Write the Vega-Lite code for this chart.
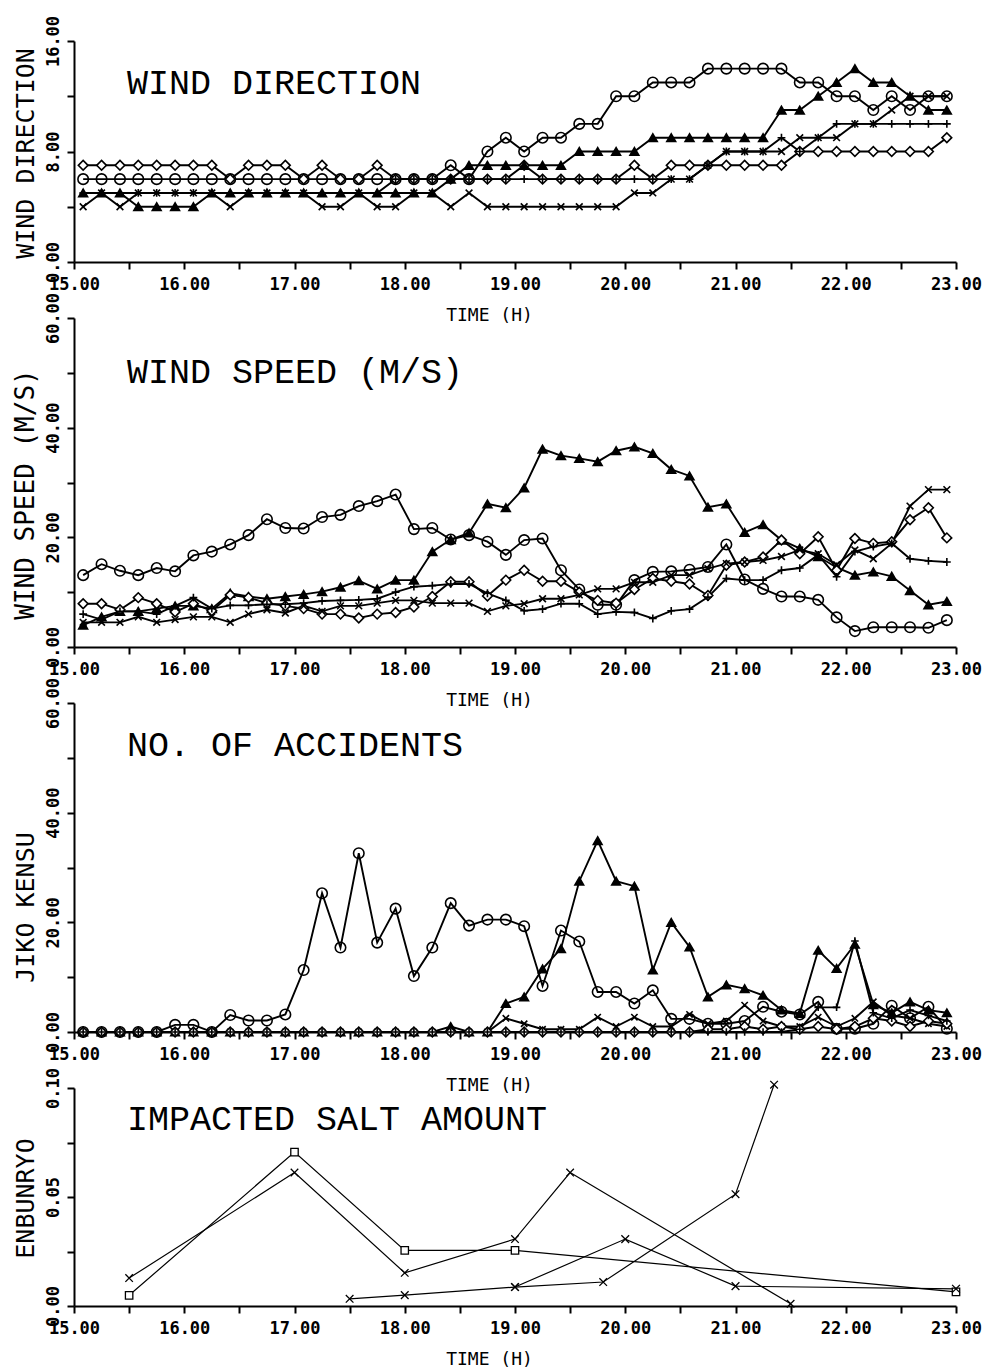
{
"$schema": "https://vega.github.io/schema/vega-lite/v6.json",
"background": "white",
"padding": {"left": 11, "top": 15, "right": 5, "bottom": 2},
"spacing": 56,
"bounds": "flush",
"resolve": {"scale": {"shape": "independent", "fill": "independent", "size": "independent"}},
"config": {
 "view": {"stroke": null},
 "axis": {"domainColor": "black", "domainWidth": 2, "tickColor": "black", "tickWidth": 2, "tickSize": 7, "labelFont": "DejaVu Sans Mono", "labelFontSize": 17, "labelFontWeight": "bold", "labelColor": "black", "titleFont": "DejaVu Sans Mono", "titleFontWeight": "normal", "titleColor": "black", "grid": false, "labelOverlap": false, "labelFlush": false},
 "axisX": {"labelPadding": 7, "titleFontSize": 18, "titleX": 415, "titleY": 58, "titleBaseline": "alphabetic", "titleAlign": "center"},
 "axisY": {"labelAngle": 270, "labelAlign": "center", "labelBaseline": "bottom", "labelPadding": 5, "titleAngle": 270, "titleFontSize": 25, "titleX": -36, "titleAlign": "center", "titleBaseline": "bottom"}
},
"datasets": {
"wd": [
{"t":15.083,"s":"D","v":7},{"t":15.25,"s":"D","v":7},{"t":15.417,"s":"D","v":7},{"t":15.583,"s":"D","v":7},{"t":15.75,"s":"D","v":7},{"t":15.917,"s":"D","v":7},{"t":16.083,"s":"D","v":7},{"t":16.25,"s":"D","v":7},{"t":16.417,"s":"D","v":6},{"t":16.583,"s":"D","v":7},{"t":16.75,"s":"D","v":7},{"t":16.917,"s":"D","v":7},{"t":17.083,"s":"D","v":6},{"t":17.25,"s":"D","v":7},{"t":17.417,"s":"D","v":6},{"t":17.583,"s":"D","v":6},{"t":17.75,"s":"D","v":7},{"t":17.917,"s":"D","v":6},{"t":18.083,"s":"D","v":6},{"t":18.25,"s":"D","v":6},{"t":18.417,"s":"D","v":6},{"t":18.583,"s":"D","v":6},{"t":18.75,"s":"D","v":6},{"t":18.917,"s":"D","v":6},{"t":19.083,"s":"D","v":7},{"t":19.25,"s":"D","v":6},{"t":19.417,"s":"D","v":6},{"t":19.583,"s":"D","v":6},{"t":19.75,"s":"D","v":6},{"t":19.917,"s":"D","v":6},{"t":20.083,"s":"D","v":7},{"t":20.25,"s":"D","v":6},{"t":20.417,"s":"D","v":7},{"t":20.583,"s":"D","v":7},{"t":20.75,"s":"D","v":7},{"t":20.917,"s":"D","v":7},{"t":21.083,"s":"D","v":7},{"t":21.25,"s":"D","v":7},{"t":21.417,"s":"D","v":7},{"t":21.583,"s":"D","v":8},{"t":21.75,"s":"D","v":8},{"t":21.917,"s":"D","v":8},{"t":22.083,"s":"D","v":8},{"t":22.25,"s":"D","v":8},{"t":22.417,"s":"D","v":8},{"t":22.583,"s":"D","v":8},{"t":22.75,"s":"D","v":8},{"t":22.917,"s":"D","v":9},
{"t":15.083,"s":"C","v":6},{"t":15.25,"s":"C","v":6},{"t":15.417,"s":"C","v":6},{"t":15.583,"s":"C","v":6},{"t":15.75,"s":"C","v":6},{"t":15.917,"s":"C","v":6},{"t":16.083,"s":"C","v":6},{"t":16.25,"s":"C","v":6},{"t":16.417,"s":"C","v":6},{"t":16.583,"s":"C","v":6},{"t":16.75,"s":"C","v":6},{"t":16.917,"s":"C","v":6},{"t":17.083,"s":"C","v":6},{"t":17.25,"s":"C","v":6},{"t":17.417,"s":"C","v":6},{"t":17.583,"s":"C","v":6},{"t":17.75,"s":"C","v":6},{"t":17.917,"s":"C","v":6},{"t":18.083,"s":"C","v":6},{"t":18.25,"s":"C","v":6},{"t":18.417,"s":"C","v":7},{"t":18.583,"s":"C","v":6},{"t":18.75,"s":"C","v":8},{"t":18.917,"s":"C","v":9},{"t":19.083,"s":"C","v":8},{"t":19.25,"s":"C","v":9},{"t":19.417,"s":"C","v":9},{"t":19.583,"s":"C","v":10},{"t":19.75,"s":"C","v":10},{"t":19.917,"s":"C","v":12},{"t":20.083,"s":"C","v":12},{"t":20.25,"s":"C","v":13},{"t":20.417,"s":"C","v":13},{"t":20.583,"s":"C","v":13},{"t":20.75,"s":"C","v":14},{"t":20.917,"s":"C","v":14},{"t":21.083,"s":"C","v":14},{"t":21.25,"s":"C","v":14},{"t":21.417,"s":"C","v":14},{"t":21.583,"s":"C","v":13},{"t":21.75,"s":"C","v":13},{"t":21.917,"s":"C","v":12},{"t":22.083,"s":"C","v":12},{"t":22.25,"s":"C","v":11},{"t":22.417,"s":"C","v":12},{"t":22.583,"s":"C","v":11},{"t":22.75,"s":"C","v":12},{"t":22.917,"s":"C","v":12},
{"t":15.083,"s":"T","v":5},{"t":15.25,"s":"T","v":5},{"t":15.417,"s":"T","v":5},{"t":15.583,"s":"T","v":4},{"t":15.75,"s":"T","v":4},{"t":15.917,"s":"T","v":4},{"t":16.083,"s":"T","v":4},{"t":16.25,"s":"T","v":5},{"t":16.417,"s":"T","v":5},{"t":16.583,"s":"T","v":5},{"t":16.75,"s":"T","v":5},{"t":16.917,"s":"T","v":5},{"t":17.083,"s":"T","v":5},{"t":17.25,"s":"T","v":5},{"t":17.417,"s":"T","v":5},{"t":17.583,"s":"T","v":5},{"t":17.75,"s":"T","v":5},{"t":17.917,"s":"T","v":5},{"t":18.083,"s":"T","v":5},{"t":18.25,"s":"T","v":5},{"t":18.417,"s":"T","v":6},{"t":18.583,"s":"T","v":7},{"t":18.75,"s":"T","v":7},{"t":18.917,"s":"T","v":7},{"t":19.083,"s":"T","v":7},{"t":19.25,"s":"T","v":7},{"t":19.417,"s":"T","v":7},{"t":19.583,"s":"T","v":8},{"t":19.75,"s":"T","v":8},{"t":19.917,"s":"T","v":8},{"t":20.083,"s":"T","v":8},{"t":20.25,"s":"T","v":9},{"t":20.417,"s":"T","v":9},{"t":20.583,"s":"T","v":9},{"t":20.75,"s":"T","v":9},{"t":20.917,"s":"T","v":9},{"t":21.083,"s":"T","v":9},{"t":21.25,"s":"T","v":9},{"t":21.417,"s":"T","v":11},{"t":21.583,"s":"T","v":11},{"t":21.75,"s":"T","v":12},{"t":21.917,"s":"T","v":13},{"t":22.083,"s":"T","v":14},{"t":22.25,"s":"T","v":13},{"t":22.417,"s":"T","v":13},{"t":22.583,"s":"T","v":12},{"t":22.75,"s":"T","v":11},{"t":22.917,"s":"T","v":11},
{"t":15.083,"s":"P","v":5},{"t":15.25,"s":"P","v":5},{"t":15.417,"s":"P","v":5},{"t":15.583,"s":"P","v":5},{"t":15.75,"s":"P","v":5},{"t":15.917,"s":"P","v":5},{"t":16.083,"s":"P","v":5},{"t":16.25,"s":"P","v":5},{"t":16.417,"s":"P","v":5},{"t":16.583,"s":"P","v":5},{"t":16.75,"s":"P","v":5},{"t":16.917,"s":"P","v":5},{"t":17.083,"s":"P","v":5},{"t":17.25,"s":"P","v":5},{"t":17.417,"s":"P","v":5},{"t":17.583,"s":"P","v":5},{"t":17.75,"s":"P","v":5},{"t":17.917,"s":"P","v":6},{"t":18.083,"s":"P","v":6},{"t":18.25,"s":"P","v":6},{"t":18.417,"s":"P","v":6},{"t":18.583,"s":"P","v":6},{"t":18.75,"s":"P","v":6},{"t":18.917,"s":"P","v":6},{"t":19.083,"s":"P","v":6},{"t":19.25,"s":"P","v":6},{"t":19.417,"s":"P","v":6},{"t":19.583,"s":"P","v":6},{"t":19.75,"s":"P","v":6},{"t":19.917,"s":"P","v":6},{"t":20.083,"s":"P","v":6},{"t":20.25,"s":"P","v":6},{"t":20.417,"s":"P","v":6},{"t":20.583,"s":"P","v":6},{"t":20.75,"s":"P","v":7},{"t":20.917,"s":"P","v":8},{"t":21.083,"s":"P","v":8},{"t":21.25,"s":"P","v":8},{"t":21.417,"s":"P","v":9},{"t":21.583,"s":"P","v":8},{"t":21.75,"s":"P","v":9},{"t":21.917,"s":"P","v":10},{"t":22.083,"s":"P","v":10},{"t":22.25,"s":"P","v":10},{"t":22.417,"s":"P","v":10},{"t":22.583,"s":"P","v":10},{"t":22.75,"s":"P","v":10},{"t":22.917,"s":"P","v":10},
{"t":15.083,"s":"X","v":4},{"t":15.25,"s":"X","v":5},{"t":15.417,"s":"X","v":4},{"t":15.583,"s":"X","v":5},{"t":15.75,"s":"X","v":5},{"t":15.917,"s":"X","v":5},{"t":16.083,"s":"X","v":5},{"t":16.25,"s":"X","v":5},{"t":16.417,"s":"X","v":4},{"t":16.583,"s":"X","v":5},{"t":16.75,"s":"X","v":5},{"t":16.917,"s":"X","v":5},{"t":17.083,"s":"X","v":5},{"t":17.25,"s":"X","v":4},{"t":17.417,"s":"X","v":4},{"t":17.583,"s":"X","v":5},{"t":17.75,"s":"X","v":4},{"t":17.917,"s":"X","v":4},{"t":18.083,"s":"X","v":5},{"t":18.25,"s":"X","v":5},{"t":18.417,"s":"X","v":4},{"t":18.583,"s":"X","v":5},{"t":18.75,"s":"X","v":4},{"t":18.917,"s":"X","v":4},{"t":19.083,"s":"X","v":4},{"t":19.25,"s":"X","v":4},{"t":19.417,"s":"X","v":4},{"t":19.583,"s":"X","v":4},{"t":19.75,"s":"X","v":4},{"t":19.917,"s":"X","v":4},{"t":20.083,"s":"X","v":5},{"t":20.25,"s":"X","v":5},{"t":20.417,"s":"X","v":6},{"t":20.583,"s":"X","v":6},{"t":20.75,"s":"X","v":7},{"t":20.917,"s":"X","v":8},{"t":21.083,"s":"X","v":8},{"t":21.25,"s":"X","v":8},{"t":21.417,"s":"X","v":8},{"t":21.583,"s":"X","v":9},{"t":21.75,"s":"X","v":9},{"t":21.917,"s":"X","v":9},{"t":22.083,"s":"X","v":10},{"t":22.25,"s":"X","v":10},{"t":22.417,"s":"X","v":11},{"t":22.583,"s":"X","v":12},{"t":22.75,"s":"X","v":12},{"t":22.917,"s":"X","v":12}
],
"ws": [
{"t":15.083,"s":"C","v":13.1},{"t":15.25,"s":"C","v":15.1},{"t":15.417,"s":"C","v":13.9},{"t":15.583,"s":"C","v":13.1},{"t":15.75,"s":"C","v":14.4},{"t":15.917,"s":"C","v":13.8},{"t":16.083,"s":"C","v":16.7},{"t":16.25,"s":"C","v":17.4},{"t":16.417,"s":"C","v":18.7},{"t":16.583,"s":"C","v":20.4},{"t":16.75,"s":"C","v":23.3},{"t":16.917,"s":"C","v":21.7},{"t":17.083,"s":"C","v":21.6},{"t":17.25,"s":"C","v":23.7},{"t":17.417,"s":"C","v":24.1},{"t":17.583,"s":"C","v":25.7},{"t":17.75,"s":"C","v":26.6},{"t":17.917,"s":"C","v":27.8},{"t":18.083,"s":"C","v":21.5},{"t":18.25,"s":"C","v":21.7},{"t":18.417,"s":"C","v":19.6},{"t":18.583,"s":"C","v":20.4},{"t":18.75,"s":"C","v":19.2},{"t":18.917,"s":"C","v":16.8},{"t":19.083,"s":"C","v":19.5},{"t":19.25,"s":"C","v":19.8},{"t":19.417,"s":"C","v":14.0},{"t":19.583,"s":"C","v":10.5},{"t":19.75,"s":"C","v":7.7},{"t":19.917,"s":"C","v":7.7},{"t":20.083,"s":"C","v":12.2},{"t":20.25,"s":"C","v":13.7},{"t":20.417,"s":"C","v":13.8},{"t":20.583,"s":"C","v":14.1},{"t":20.75,"s":"C","v":14.6},{"t":20.917,"s":"C","v":18.7},{"t":21.083,"s":"C","v":12.3},{"t":21.25,"s":"C","v":10.6},{"t":21.417,"s":"C","v":9.2},{"t":21.583,"s":"C","v":9.2},{"t":21.75,"s":"C","v":8.6},{"t":21.917,"s":"C","v":5.4},{"t":22.083,"s":"C","v":2.9},{"t":22.25,"s":"C","v":3.6},{"t":22.417,"s":"C","v":3.6},{"t":22.583,"s":"C","v":3.6},{"t":22.75,"s":"C","v":3.5},{"t":22.917,"s":"C","v":4.9},
{"t":15.083,"s":"T","v":4},{"t":15.25,"s":"T","v":5.5},{"t":15.417,"s":"T","v":6.5},{"t":15.583,"s":"T","v":6.5},{"t":15.75,"s":"T","v":7},{"t":15.917,"s":"T","v":7.5},{"t":16.083,"s":"T","v":7.5},{"t":16.25,"s":"T","v":7},{"t":16.417,"s":"T","v":9.8},{"t":16.583,"s":"T","v":9.2},{"t":16.75,"s":"T","v":8.8},{"t":16.917,"s":"T","v":9.2},{"t":17.083,"s":"T","v":9.6},{"t":17.25,"s":"T","v":10.1},{"t":17.417,"s":"T","v":10.9},{"t":17.583,"s":"T","v":12.1},{"t":17.75,"s":"T","v":10.6},{"t":17.917,"s":"T","v":12.2},{"t":18.083,"s":"T","v":12.2},{"t":18.25,"s":"T","v":17.4},{"t":18.417,"s":"T","v":19.6},{"t":18.583,"s":"T","v":20.8},{"t":18.75,"s":"T","v":26.1},{"t":18.917,"s":"T","v":25.4},{"t":19.083,"s":"T","v":29.0},{"t":19.25,"s":"T","v":36.1},{"t":19.417,"s":"T","v":34.9},{"t":19.583,"s":"T","v":34.4},{"t":19.75,"s":"T","v":33.8},{"t":19.917,"s":"T","v":35.8},{"t":20.083,"s":"T","v":36.5},{"t":20.25,"s":"T","v":35.3},{"t":20.417,"s":"T","v":32.4},{"t":20.583,"s":"T","v":31.2},{"t":20.75,"s":"T","v":25.5},{"t":20.917,"s":"T","v":26.1},{"t":21.083,"s":"T","v":20.9},{"t":21.25,"s":"T","v":22.3},{"t":21.417,"s":"T","v":19.5},{"t":21.583,"s":"T","v":18.0},{"t":21.75,"s":"T","v":16.5},{"t":21.917,"s":"T","v":14.5},{"t":22.083,"s":"T","v":13.1},{"t":22.25,"s":"T","v":13.7},{"t":22.417,"s":"T","v":12.9},{"t":22.583,"s":"T","v":10.3},{"t":22.75,"s":"T","v":7.7},{"t":22.917,"s":"T","v":8.3},
{"t":15.083,"s":"D","v":7.9},{"t":15.25,"s":"D","v":7.9},{"t":15.417,"s":"D","v":6.8},{"t":15.583,"s":"D","v":9.0},{"t":15.75,"s":"D","v":7.9},{"t":15.917,"s":"D","v":6.4},{"t":16.083,"s":"D","v":7.9},{"t":16.25,"s":"D","v":6.6},{"t":16.417,"s":"D","v":9.5},{"t":16.583,"s":"D","v":9.0},{"t":16.75,"s":"D","v":8.0},{"t":16.917,"s":"D","v":7.5},{"t":17.083,"s":"D","v":7.0},{"t":17.25,"s":"D","v":6.0},{"t":17.417,"s":"D","v":6.0},{"t":17.583,"s":"D","v":5.3},{"t":17.75,"s":"D","v":6.0},{"t":17.917,"s":"D","v":6.3},{"t":18.083,"s":"D","v":7.3},{"t":18.25,"s":"D","v":9.2},{"t":18.417,"s":"D","v":11.9},{"t":18.583,"s":"D","v":11.9},{"t":18.75,"s":"D","v":9.3},{"t":18.917,"s":"D","v":12.2},{"t":19.083,"s":"D","v":14.0},{"t":19.25,"s":"D","v":12.0},{"t":19.417,"s":"D","v":12.0},{"t":19.583,"s":"D","v":10.0},{"t":19.75,"s":"D","v":8.5},{"t":19.917,"s":"D","v":8.0},{"t":20.083,"s":"D","v":10.5},{"t":20.25,"s":"D","v":12.5},{"t":20.417,"s":"D","v":12.0},{"t":20.583,"s":"D","v":11.5},{"t":20.75,"s":"D","v":9.4},{"t":20.917,"s":"D","v":14.9},{"t":21.083,"s":"D","v":15.5},{"t":21.25,"s":"D","v":16.4},{"t":21.417,"s":"D","v":19.5},{"t":21.583,"s":"D","v":17.0},{"t":21.75,"s":"D","v":20.1},{"t":21.917,"s":"D","v":14.0},{"t":22.083,"s":"D","v":19.8},{"t":22.25,"s":"D","v":18.9},{"t":22.417,"s":"D","v":19.2},{"t":22.583,"s":"D","v":23.2},{"t":22.75,"s":"D","v":25.4},{"t":22.917,"s":"D","v":19.9},
{"t":15.083,"s":"P","v":6},{"t":15.25,"s":"P","v":5},{"t":15.417,"s":"P","v":6.5},{"t":15.583,"s":"P","v":6.5},{"t":15.75,"s":"P","v":6},{"t":15.917,"s":"P","v":7.5},{"t":16.083,"s":"P","v":9},{"t":16.25,"s":"P","v":7},{"t":16.417,"s":"P","v":7.6},{"t":16.583,"s":"P","v":7.6},{"t":16.75,"s":"P","v":7.8},{"t":16.917,"s":"P","v":7.8},{"t":17.083,"s":"P","v":8.0},{"t":17.25,"s":"P","v":8.4},{"t":17.417,"s":"P","v":8.5},{"t":17.583,"s":"P","v":8.6},{"t":17.75,"s":"P","v":8.8},{"t":17.917,"s":"P","v":10.0},{"t":18.083,"s":"P","v":11.0},{"t":18.25,"s":"P","v":11.2},{"t":18.417,"s":"P","v":11.5},{"t":18.583,"s":"P","v":11.5},{"t":18.75,"s":"P","v":9.8},{"t":18.917,"s":"P","v":8.5},{"t":19.083,"s":"P","v":6.6},{"t":19.25,"s":"P","v":6.9},{"t":19.417,"s":"P","v":7.9},{"t":19.583,"s":"P","v":7.9},{"t":19.75,"s":"P","v":6.0},{"t":19.917,"s":"P","v":6.4},{"t":20.083,"s":"P","v":6.3},{"t":20.25,"s":"P","v":5.2},{"t":20.417,"s":"P","v":6.6},{"t":20.583,"s":"P","v":6.9},{"t":20.75,"s":"P","v":9.1},{"t":20.917,"s":"P","v":12.5},{"t":21.083,"s":"P","v":12.2},{"t":21.25,"s":"P","v":12.2},{"t":21.417,"s":"P","v":14.0},{"t":21.583,"s":"P","v":14.4},{"t":21.75,"s":"P","v":16.8},{"t":21.917,"s":"P","v":12.8},{"t":22.083,"s":"P","v":17.4},{"t":22.25,"s":"P","v":18.3},{"t":22.417,"s":"P","v":18.9},{"t":22.583,"s":"P","v":16.1},{"t":22.75,"s":"P","v":15.7},{"t":22.917,"s":"P","v":15.5},
{"t":15.083,"s":"X","v":4.5},{"t":15.25,"s":"X","v":4.5},{"t":15.417,"s":"X","v":4.5},{"t":15.583,"s":"X","v":5.5},{"t":15.75,"s":"X","v":4.5},{"t":15.917,"s":"X","v":5},{"t":16.083,"s":"X","v":5.5},{"t":16.25,"s":"X","v":5.5},{"t":16.417,"s":"X","v":4.5},{"t":16.583,"s":"X","v":6},{"t":16.75,"s":"X","v":6.8},{"t":16.917,"s":"X","v":6.2},{"t":17.083,"s":"X","v":7.5},{"t":17.25,"s":"X","v":6.5},{"t":17.417,"s":"X","v":7.5},{"t":17.583,"s":"X","v":7.5},{"t":17.75,"s":"X","v":8.0},{"t":17.917,"s":"X","v":8.5},{"t":18.083,"s":"X","v":8.5},{"t":18.25,"s":"X","v":8.0},{"t":18.417,"s":"X","v":8.0},{"t":18.583,"s":"X","v":8.0},{"t":18.75,"s":"X","v":6.5},{"t":18.917,"s":"X","v":7.5},{"t":19.083,"s":"X","v":7.9},{"t":19.25,"s":"X","v":8.8},{"t":19.417,"s":"X","v":8.8},{"t":19.583,"s":"X","v":9.5},{"t":19.75,"s":"X","v":10.6},{"t":19.917,"s":"X","v":10.6},{"t":20.083,"s":"X","v":11.8},{"t":20.25,"s":"X","v":11.8},{"t":20.417,"s":"X","v":13.1},{"t":20.583,"s":"X","v":13.1},{"t":20.75,"s":"X","v":14.3},{"t":20.917,"s":"X","v":15.2},{"t":21.083,"s":"X","v":15.5},{"t":21.25,"s":"X","v":15.8},{"t":21.417,"s":"X","v":16.5},{"t":21.583,"s":"X","v":17.7},{"t":21.75,"s":"X","v":17.0},{"t":21.917,"s":"X","v":15.0},{"t":22.083,"s":"X","v":17.7},{"t":22.25,"s":"X","v":16.1},{"t":22.417,"s":"X","v":18.9},{"t":22.583,"s":"X","v":25.7},{"t":22.75,"s":"X","v":28.7},{"t":22.917,"s":"X","v":28.7}
],
"acc": [
{"t":15.083,"s":"C","v":0},{"t":15.25,"s":"C","v":0},{"t":15.417,"s":"C","v":0},{"t":15.583,"s":"C","v":0},{"t":15.75,"s":"C","v":0},{"t":15.917,"s":"C","v":1.3},{"t":16.083,"s":"C","v":1.3},{"t":16.25,"s":"C","v":0},{"t":16.417,"s":"C","v":3.1},{"t":16.583,"s":"C","v":2.1},{"t":16.75,"s":"C","v":2.1},{"t":16.917,"s":"C","v":3.2},{"t":17.083,"s":"C","v":11.3},{"t":17.25,"s":"C","v":25.3},{"t":17.417,"s":"C","v":15.4},{"t":17.583,"s":"C","v":32.6},{"t":17.75,"s":"C","v":16.3},{"t":17.917,"s":"C","v":22.5},{"t":18.083,"s":"C","v":10.2},{"t":18.25,"s":"C","v":15.4},{"t":18.417,"s":"C","v":23.5},{"t":18.583,"s":"C","v":19.4},{"t":18.75,"s":"C","v":20.5},{"t":18.917,"s":"C","v":20.5},{"t":19.083,"s":"C","v":19.3},{"t":19.25,"s":"C","v":8.4},{"t":19.417,"s":"C","v":18.5},{"t":19.583,"s":"C","v":16.5},{"t":19.75,"s":"C","v":7.3},{"t":19.917,"s":"C","v":7.3},{"t":20.083,"s":"C","v":5.2},{"t":20.25,"s":"C","v":7.6},{"t":20.417,"s":"C","v":2.4},{"t":20.583,"s":"C","v":2.4},{"t":20.75,"s":"C","v":1.5},{"t":20.917,"s":"C","v":1.5},{"t":21.083,"s":"C","v":2.0},{"t":21.25,"s":"C","v":4.6},{"t":21.417,"s":"C","v":3.7},{"t":21.583,"s":"C","v":3.2},{"t":21.75,"s":"C","v":5.5},{"t":21.917,"s":"C","v":0.6},{"t":22.083,"s":"C","v":0.6},{"t":22.25,"s":"C","v":1.5},{"t":22.417,"s":"C","v":4.8},{"t":22.583,"s":"C","v":2.5},{"t":22.75,"s":"C","v":4.6},{"t":22.917,"s":"C","v":0.6},
{"t":15.083,"s":"T","v":0},{"t":15.25,"s":"T","v":0},{"t":15.417,"s":"T","v":0},{"t":15.583,"s":"T","v":0},{"t":15.75,"s":"T","v":0},{"t":15.917,"s":"T","v":0},{"t":16.083,"s":"T","v":0},{"t":16.25,"s":"T","v":0},{"t":16.417,"s":"T","v":0},{"t":16.583,"s":"T","v":0},{"t":16.75,"s":"T","v":0},{"t":16.917,"s":"T","v":0},{"t":17.083,"s":"T","v":0},{"t":17.25,"s":"T","v":0},{"t":17.417,"s":"T","v":0},{"t":17.583,"s":"T","v":0},{"t":17.75,"s":"T","v":0},{"t":17.917,"s":"T","v":0},{"t":18.083,"s":"T","v":0},{"t":18.25,"s":"T","v":0},{"t":18.417,"s":"T","v":1.0},{"t":18.583,"s":"T","v":0},{"t":18.75,"s":"T","v":0},{"t":18.917,"s":"T","v":5.2},{"t":19.083,"s":"T","v":6.4},{"t":19.25,"s":"T","v":11.5},{"t":19.417,"s":"T","v":15.2},{"t":19.583,"s":"T","v":27.5},{"t":19.75,"s":"T","v":34.9},{"t":19.917,"s":"T","v":27.5},{"t":20.083,"s":"T","v":26.6},{"t":20.25,"s":"T","v":11.3},{"t":20.417,"s":"T","v":20.0},{"t":20.583,"s":"T","v":15.5},{"t":20.75,"s":"T","v":6.4},{"t":20.917,"s":"T","v":8.6},{"t":21.083,"s":"T","v":7.9},{"t":21.25,"s":"T","v":6.7},{"t":21.417,"s":"T","v":4.0},{"t":21.583,"s":"T","v":3.4},{"t":21.75,"s":"T","v":14.9},{"t":21.917,"s":"T","v":11.6},{"t":22.083,"s":"T","v":16.0},{"t":22.25,"s":"T","v":5.0},{"t":22.417,"s":"T","v":3.5},{"t":22.583,"s":"T","v":5.5},{"t":22.75,"s":"T","v":4.0},{"t":22.917,"s":"T","v":3.5},
{"t":15.083,"s":"X","v":0},{"t":15.25,"s":"X","v":0},{"t":15.417,"s":"X","v":0},{"t":15.583,"s":"X","v":0},{"t":15.75,"s":"X","v":0},{"t":15.917,"s":"X","v":0},{"t":16.083,"s":"X","v":0},{"t":16.25,"s":"X","v":0},{"t":16.417,"s":"X","v":0},{"t":16.583,"s":"X","v":0},{"t":16.75,"s":"X","v":0},{"t":16.917,"s":"X","v":0},{"t":17.083,"s":"X","v":0},{"t":17.25,"s":"X","v":0},{"t":17.417,"s":"X","v":0},{"t":17.583,"s":"X","v":0},{"t":17.75,"s":"X","v":0},{"t":17.917,"s":"X","v":0},{"t":18.083,"s":"X","v":0},{"t":18.25,"s":"X","v":0},{"t":18.417,"s":"X","v":0},{"t":18.583,"s":"X","v":0},{"t":18.75,"s":"X","v":0},{"t":18.917,"s":"X","v":2.5},{"t":19.083,"s":"X","v":1.5},{"t":19.25,"s":"X","v":0.5},{"t":19.417,"s":"X","v":0.5},{"t":19.583,"s":"X","v":0.5},{"t":19.75,"s":"X","v":2.7},{"t":19.917,"s":"X","v":1.0},{"t":20.083,"s":"X","v":2.7},{"t":20.25,"s":"X","v":1.0},{"t":20.417,"s":"X","v":1.0},{"t":20.583,"s":"X","v":3.2},{"t":20.75,"s":"X","v":1.5},{"t":20.917,"s":"X","v":2.0},{"t":21.083,"s":"X","v":4.9},{"t":21.25,"s":"X","v":2.0},{"t":21.417,"s":"X","v":1.0},{"t":21.583,"s":"X","v":1.0},{"t":21.75,"s":"X","v":2.7},{"t":21.917,"s":"X","v":1.0},{"t":22.083,"s":"X","v":2.5},{"t":22.25,"s":"X","v":5.5},{"t":22.417,"s":"X","v":3.0},{"t":22.583,"s":"X","v":2.5},{"t":22.75,"s":"X","v":1.5},{"t":22.917,"s":"X","v":1.0},
{"t":15.083,"s":"D","v":0},{"t":15.25,"s":"D","v":0},{"t":15.417,"s":"D","v":0},{"t":15.583,"s":"D","v":0},{"t":15.75,"s":"D","v":0},{"t":15.917,"s":"D","v":0},{"t":16.083,"s":"D","v":0},{"t":16.25,"s":"D","v":0},{"t":16.417,"s":"D","v":0},{"t":16.583,"s":"D","v":0},{"t":16.75,"s":"D","v":0},{"t":16.917,"s":"D","v":0},{"t":17.083,"s":"D","v":0},{"t":17.25,"s":"D","v":0},{"t":17.417,"s":"D","v":0},{"t":17.583,"s":"D","v":0},{"t":17.75,"s":"D","v":0},{"t":17.917,"s":"D","v":0},{"t":18.083,"s":"D","v":0},{"t":18.25,"s":"D","v":0},{"t":18.417,"s":"D","v":0},{"t":18.583,"s":"D","v":0},{"t":18.75,"s":"D","v":0},{"t":18.917,"s":"D","v":0},{"t":19.083,"s":"D","v":0},{"t":19.25,"s":"D","v":0},{"t":19.417,"s":"D","v":0},{"t":19.583,"s":"D","v":0},{"t":19.75,"s":"D","v":0},{"t":19.917,"s":"D","v":0},{"t":20.083,"s":"D","v":0},{"t":20.25,"s":"D","v":0},{"t":20.417,"s":"D","v":0},{"t":20.583,"s":"D","v":0},{"t":20.75,"s":"D","v":0.5},{"t":20.917,"s":"D","v":0.5},{"t":21.083,"s":"D","v":1.0},{"t":21.25,"s":"D","v":0.5},{"t":21.417,"s":"D","v":1.0},{"t":21.583,"s":"D","v":0.5},{"t":21.75,"s":"D","v":1.0},{"t":21.917,"s":"D","v":0.5},{"t":22.083,"s":"D","v":1.0},{"t":22.25,"s":"D","v":2.5},{"t":22.417,"s":"D","v":2.0},{"t":22.583,"s":"D","v":1.0},{"t":22.75,"s":"D","v":2.0},{"t":22.917,"s":"D","v":1.5},
{"t":15.083,"s":"P","v":0},{"t":15.25,"s":"P","v":0},{"t":15.417,"s":"P","v":0},{"t":15.583,"s":"P","v":0},{"t":15.75,"s":"P","v":0},{"t":15.917,"s":"P","v":0},{"t":16.083,"s":"P","v":0},{"t":16.25,"s":"P","v":0},{"t":16.417,"s":"P","v":0},{"t":16.583,"s":"P","v":0},{"t":16.75,"s":"P","v":0},{"t":16.917,"s":"P","v":0},{"t":17.083,"s":"P","v":0},{"t":17.25,"s":"P","v":0},{"t":17.417,"s":"P","v":0},{"t":17.583,"s":"P","v":0},{"t":17.75,"s":"P","v":0},{"t":17.917,"s":"P","v":0},{"t":18.083,"s":"P","v":0},{"t":18.25,"s":"P","v":0},{"t":18.417,"s":"P","v":0},{"t":18.583,"s":"P","v":0},{"t":18.75,"s":"P","v":0},{"t":18.917,"s":"P","v":0},{"t":19.083,"s":"P","v":0},{"t":19.25,"s":"P","v":0},{"t":19.417,"s":"P","v":0},{"t":19.583,"s":"P","v":0},{"t":19.75,"s":"P","v":0},{"t":19.917,"s":"P","v":0},{"t":20.083,"s":"P","v":0},{"t":20.25,"s":"P","v":0},{"t":20.417,"s":"P","v":0},{"t":20.583,"s":"P","v":0},{"t":20.75,"s":"P","v":0},{"t":20.917,"s":"P","v":0},{"t":21.083,"s":"P","v":0},{"t":21.25,"s":"P","v":0},{"t":21.417,"s":"P","v":0},{"t":21.583,"s":"P","v":0.5},{"t":21.75,"s":"P","v":4.5},{"t":21.917,"s":"P","v":4.5},{"t":22.083,"s":"P","v":16.6},{"t":22.25,"s":"P","v":3.5},{"t":22.417,"s":"P","v":2.5},{"t":22.583,"s":"P","v":4.0},{"t":22.75,"s":"P","v":3.0},{"t":22.917,"s":"P","v":2.0}
],
"salt": [
{"t":15.5,"s":"S","v":0.0049},{"t":17.0,"s":"S","v":0.0706},{"t":18.0,"s":"S","v":0.0255},{"t":19.0,"s":"S","v":0.0255},{"t":23.0,"s":"S","v":0.0065},
{"t":15.5,"s":"B","v":0.0128},{"t":17.0,"s":"B","v":0.0612},{"t":18.0,"s":"B","v":0.0152},{"t":19.0,"s":"B","v":0.0307},{"t":19.5,"s":"B","v":0.0612},{"t":21.5,"s":"B","v":0.001},
{"t":17.5,"s":"C","v":0.0033},{"t":18.0,"s":"C","v":0.005},{"t":19.0,"s":"C","v":0.0087},{"t":19.8,"s":"C","v":0.011},{"t":21.0,"s":"C","v":0.0513},{"t":21.35,"s":"C","v":0.1015},
{"t":19.0,"s":"D","v":0.0087},{"t":20.0,"s":"D","v":0.0307},{"t":21.0,"s":"D","v":0.0091},{"t":23.0,"s":"D","v":0.0079}
]
},
"vconcat": [
{
 "width": 882, "height": 221,
 "layer": [
  {"data": {"name": "wd"}, "mark": {"type": "line", "color": "black", "strokeWidth": 1.9},
   "encoding": {
    "x": {"field": "t", "type": "quantitative", "scale": {"domain": [15, 23], "nice": false, "zero": false}, "axis": {"values": [15,15.5,16,16.5,17,17.5,18,18.5,19,19.5,20,20.5,21,21.5,22,22.5,23], "labelExpr": "round(datum.value*2) % 2 === 0 ? format(datum.value, '.2f') : ''", "title": "TIME (H)"}},
    "y": {"field": "v", "type": "quantitative", "scale": {"domain": [0, 16], "nice": false}, "axis": {"values": [0,4,8,12,16], "labelExpr": "datum.value % 8 === 0 ? format(datum.value, '.2f') : ''", "title": "WIND DIRECTION", "titleY": 112}},
    "detail": {"field": "s"}}},
  {"data": {"name": "wd"}, "mark": {"type": "point", "filled": false, "strokeWidth": 1.6, "opacity": 1},
   "encoding": {
    "x": {"field": "t", "type": "quantitative", "axis": {"values": [15,15.5,16,16.5,17,17.5,18,18.5,19,19.5,20,20.5,21,21.5,22,22.5,23], "labelExpr": "round(datum.value*2) % 2 === 0 ? format(datum.value, '.2f') : ''", "title": "TIME (H)"}},
    "y": {"field": "v", "type": "quantitative", "axis": {"values": [0,4,8,12,16], "labelExpr": "datum.value % 8 === 0 ? format(datum.value, '.2f') : ''", "title": "WIND DIRECTION", "titleY": 112}},
    "shape": {"field": "s", "type": "nominal", "legend": null, "scale": {"domain": ["C","D","T","P","X"], "range": ["circle","diamond","triangle-up","M-1,0L1,0M0,-1L0,1","M-1,-1L1,1M-1,1L1,-1"]}},
    "fill": {"field": "s", "type": "nominal", "legend": null, "scale": {"domain": ["C","D","T","P","X"], "range": ["transparent","white","black","transparent","transparent"]}},
    "size": {"field": "s", "type": "nominal", "legend": null, "scale": {"domain": ["C","D","T","P","X"], "range": [110,45,35,110,110]}},
    "stroke": {"value": "black"}}},
  {"data": {"values": [{}]}, "mark": {"type": "text", "font": "Liberation Mono", "fontSize": 35, "align": "left", "baseline": "middle", "color": "black"},
   "encoding": {
    "x": {"datum": 15.48, "type": "quantitative", "axis": {"values": [15,15.5,16,16.5,17,17.5,18,18.5,19,19.5,20,20.5,21,21.5,22,22.5,23], "labelExpr": "round(datum.value*2) % 2 === 0 ? format(datum.value, '.2f') : ''", "title": "TIME (H)"}},
    "y": {"datum": 12.93, "type": "quantitative", "axis": {"values": [0,4,8,12,16], "labelExpr": "datum.value % 8 === 0 ? format(datum.value, '.2f') : ''", "title": "WIND DIRECTION", "titleY": 112}},
    "text": {"value": "WIND DIRECTION"}}}
 ]
},
{
 "width": 882, "height": 329,
 "layer": [
  {"data": {"name": "ws"}, "mark": {"type": "line", "color": "black", "strokeWidth": 1.9},
   "encoding": {
    "x": {"field": "t", "type": "quantitative", "scale": {"domain": [15, 23], "nice": false, "zero": false}, "axis": {"values": [15,15.5,16,16.5,17,17.5,18,18.5,19,19.5,20,20.5,21,21.5,22,22.5,23], "labelExpr": "round(datum.value*2) % 2 === 0 ? format(datum.value, '.2f') : ''", "title": "TIME (H)"}},
    "y": {"field": "v", "type": "quantitative", "scale": {"domain": [0, 60], "nice": false}, "axis": {"values": [0,10,20,30,40,50,60], "labelExpr": "datum.value % 20 === 0 ? format(datum.value, '.2f') : ''", "title": "WIND SPEED (M/S)", "titleY": 176, "titleFontSize": 26}},
    "detail": {"field": "s"}}},
  {"data": {"name": "ws"}, "mark": {"type": "point", "filled": false, "strokeWidth": 1.6, "opacity": 1},
   "encoding": {
    "x": {"field": "t", "type": "quantitative", "axis": {"values": [15,15.5,16,16.5,17,17.5,18,18.5,19,19.5,20,20.5,21,21.5,22,22.5,23], "labelExpr": "round(datum.value*2) % 2 === 0 ? format(datum.value, '.2f') : ''", "title": "TIME (H)"}},
    "y": {"field": "v", "type": "quantitative", "axis": {"values": [0,10,20,30,40,50,60], "labelExpr": "datum.value % 20 === 0 ? format(datum.value, '.2f') : ''", "title": "WIND SPEED (M/S)", "titleY": 176, "titleFontSize": 26}},
    "shape": {"field": "s", "type": "nominal", "legend": null, "scale": {"domain": ["C","D","T","P","X"], "range": ["circle","diamond","triangle-up","M-1,0L1,0M0,-1L0,1","M-1,-1L1,1M-1,1L1,-1"]}},
    "fill": {"field": "s", "type": "nominal", "legend": null, "scale": {"domain": ["C","D","T","P","X"], "range": ["transparent","white","black","transparent","transparent"]}},
    "size": {"field": "s", "type": "nominal", "legend": null, "scale": {"domain": ["C","D","T","P","X"], "range": [110,45,35,110,110]}},
    "stroke": {"value": "black"}}},
  {"data": {"values": [{}]}, "mark": {"type": "text", "font": "Liberation Mono", "fontSize": 35, "align": "left", "baseline": "middle", "color": "black"},
   "encoding": {
    "x": {"datum": 15.48, "type": "quantitative", "axis": {"values": [15,15.5,16,16.5,17,17.5,18,18.5,19,19.5,20,20.5,21,21.5,22,22.5,23], "labelExpr": "round(datum.value*2) % 2 === 0 ? format(datum.value, '.2f') : ''", "title": "TIME (H)"}},
    "y": {"datum": 50.2, "type": "quantitative", "axis": {"values": [0,10,20,30,40,50,60], "labelExpr": "datum.value % 20 === 0 ? format(datum.value, '.2f') : ''", "title": "WIND SPEED (M/S)", "titleY": 176, "titleFontSize": 26}},
    "text": {"value": "WIND SPEED (M/S)"}}}
 ]
},
{
 "width": 882, "height": 329,
 "layer": [
  {"data": {"name": "acc"}, "mark": {"type": "line", "color": "black", "strokeWidth": 1.9},
   "encoding": {
    "x": {"field": "t", "type": "quantitative", "scale": {"domain": [15, 23], "nice": false, "zero": false}, "axis": {"values": [15,15.5,16,16.5,17,17.5,18,18.5,19,19.5,20,20.5,21,21.5,22,22.5,23], "labelExpr": "round(datum.value*2) % 2 === 0 ? format(datum.value, '.2f') : ''", "title": "TIME (H)"}},
    "y": {"field": "v", "type": "quantitative", "scale": {"domain": [0, 60], "nice": false}, "axis": {"values": [0,10,20,30,40,50,60], "labelExpr": "datum.value % 20 === 0 ? format(datum.value, '.2f') : ''", "title": "JIKO KENSU", "titleY": 204}},
    "detail": {"field": "s"}}},
  {"data": {"name": "acc"}, "mark": {"type": "point", "filled": false, "strokeWidth": 1.6, "opacity": 1},
   "encoding": {
    "x": {"field": "t", "type": "quantitative", "axis": {"values": [15,15.5,16,16.5,17,17.5,18,18.5,19,19.5,20,20.5,21,21.5,22,22.5,23], "labelExpr": "round(datum.value*2) % 2 === 0 ? format(datum.value, '.2f') : ''", "title": "TIME (H)"}},
    "y": {"field": "v", "type": "quantitative", "axis": {"values": [0,10,20,30,40,50,60], "labelExpr": "datum.value % 20 === 0 ? format(datum.value, '.2f') : ''", "title": "JIKO KENSU", "titleY": 204}},
    "shape": {"field": "s", "type": "nominal", "legend": null, "scale": {"domain": ["C","D","T","P","X"], "range": ["circle","diamond","triangle-up","M-1,0L1,0M0,-1L0,1","M-1,-1L1,1M-1,1L1,-1"]}},
    "fill": {"field": "s", "type": "nominal", "legend": null, "scale": {"domain": ["C","D","T","P","X"], "range": ["transparent","white","black","transparent","transparent"]}},
    "size": {"field": "s", "type": "nominal", "legend": null, "scale": {"domain": ["C","D","T","P","X"], "range": [110,40,35,100,100]}},
    "stroke": {"value": "black"}}},
  {"data": {"values": [{}]}, "mark": {"type": "text", "font": "Liberation Mono", "fontSize": 35, "align": "left", "baseline": "middle", "color": "black"},
   "encoding": {
    "x": {"datum": 15.48, "type": "quantitative", "axis": {"values": [15,15.5,16,16.5,17,17.5,18,18.5,19,19.5,20,20.5,21,21.5,22,22.5,23], "labelExpr": "round(datum.value*2) % 2 === 0 ? format(datum.value, '.2f') : ''", "title": "TIME (H)"}},
    "y": {"datum": 52.3, "type": "quantitative", "axis": {"values": [0,10,20,30,40,50,60], "labelExpr": "datum.value % 20 === 0 ? format(datum.value, '.2f') : ''", "title": "JIKO KENSU", "titleY": 204}},
    "text": {"value": "NO. OF ACCIDENTS"}}}
 ]
},
{
 "width": 882, "height": 218,
 "layer": [
  {"data": {"name": "salt"}, "mark": {"type": "line", "color": "black", "strokeWidth": 1.2},
   "encoding": {
    "x": {"field": "t", "type": "quantitative", "scale": {"domain": [15, 23], "nice": false, "zero": false}, "axis": {"values": [15,15.5,16,16.5,17,17.5,18,18.5,19,19.5,20,20.5,21,21.5,22,22.5,23], "labelExpr": "round(datum.value*2) % 2 === 0 ? format(datum.value, '.2f') : ''", "title": "TIME (H)"}},
    "y": {"field": "v", "type": "quantitative", "scale": {"domain": [0, 0.1], "nice": false}, "axis": {"values": [0,0.025,0.05,0.075,0.1], "labelExpr": "round(datum.value*40) % 2 === 0 ? format(datum.value, '.2f') : ''", "title": "ENBUNRYO", "titleY": 110}},
    "detail": {"field": "s"}}},
  {"data": {"name": "salt"}, "mark": {"type": "point", "filled": false, "strokeWidth": 1.3, "opacity": 1},
   "encoding": {
    "x": {"field": "t", "type": "quantitative", "axis": {"values": [15,15.5,16,16.5,17,17.5,18,18.5,19,19.5,20,20.5,21,21.5,22,22.5,23], "labelExpr": "round(datum.value*2) % 2 === 0 ? format(datum.value, '.2f') : ''", "title": "TIME (H)"}},
    "y": {"field": "v", "type": "quantitative", "axis": {"values": [0,0.025,0.05,0.075,0.1], "labelExpr": "round(datum.value*40) % 2 === 0 ? format(datum.value, '.2f') : ''", "title": "ENBUNRYO", "titleY": 110}},
    "shape": {"field": "s", "type": "nominal", "legend": null, "scale": {"domain": ["S","B","C","D"], "range": ["square","M-1,-1L1,1M-1,1L1,-1","M-1,-1L1,1M-1,1L1,-1","M-1,-1L1,1M-1,1L1,-1"]}},
    "fill": {"field": "s", "type": "nominal", "legend": null, "scale": {"domain": ["S","B","C","D"], "range": ["white","transparent","transparent","transparent"]}},
    "size": {"field": "s", "type": "nominal", "legend": null, "scale": {"domain": ["S","B","C","D"], "range": [55,60,60,60]}},
    "stroke": {"value": "black"}}},
  {"data": {"values": [{}]}, "mark": {"type": "text", "font": "Liberation Mono", "fontSize": 35, "align": "left", "baseline": "middle", "color": "black"},
   "encoding": {
    "x": {"datum": 15.48, "type": "quantitative", "axis": {"values": [15,15.5,16,16.5,17,17.5,18,18.5,19,19.5,20,20.5,21,21.5,22,22.5,23], "labelExpr": "round(datum.value*2) % 2 === 0 ? format(datum.value, '.2f') : ''", "title": "TIME (H)"}},
    "y": {"datum": 0.0858, "type": "quantitative", "axis": {"values": [0,0.025,0.05,0.075,0.1], "labelExpr": "round(datum.value*40) % 2 === 0 ? format(datum.value, '.2f') : ''", "title": "ENBUNRYO", "titleY": 110}},
    "text": {"value": "IMPACTED SALT AMOUNT"}}}
 ]
}
]
}
